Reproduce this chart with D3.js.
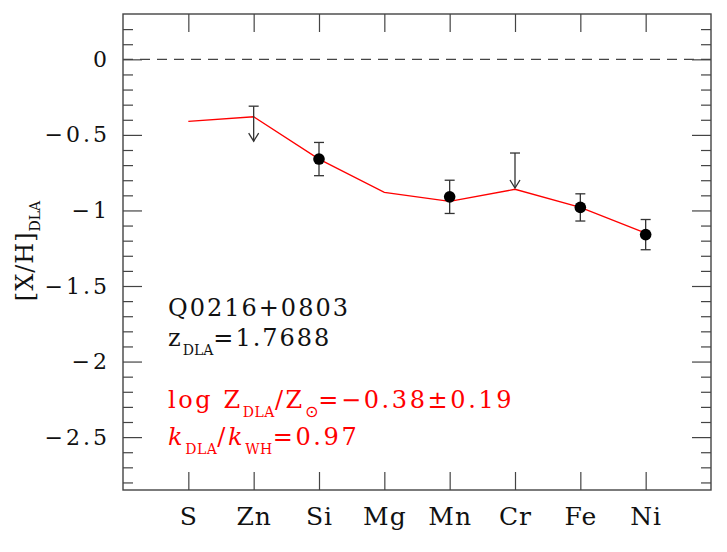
<html lang="en">
  <head>
    <title>Q0216+0803 abundances</title>
    <script src="https://d3js.org/d3.v7.min.js"></script>
    <style>
      body { margin: 0; background: #fff; }
      #chart text { font-family: 'DejaVu Serif', serif; }
      .axis path { display: none; }
      .axis line { stroke: #444; stroke-width: 1.2; }
    </style>
  </head>
  <body>
    <svg id="chart" width="727" height="552"></svg>
    <script>
      const elements = ['S', 'Zn', 'Si', 'Mg', 'Mn', 'Cr', 'Fe', 'Ni']
      const modelValues = [-0.41, -0.38, -0.66, -0.88, -0.94, -0.86, -0.98, -1.15]

      const detected = ['Si', 'Mn', 'Fe', 'Ni']
      const detectedValues = [-0.66, -0.91, -0.98, -1.16]
      const detectedErrors = [0.11, 0.11, 0.09, 0.10]

      const limitElements = ['Zn', 'Cr']
      const limitValues = [-0.31, -0.62]

      const yTicks = [0, -0.5, -1, -1.5, -2, -2.5]
      const yTickLabels = ['0', '\u22120.5', '\u22121', '\u22121.5', '\u22122', '\u22122.5']

      const svg = d3.select('#chart')
      const mLeft = 123, mTop = 14, mRight = 711, mBottom = 490

      const x = d3.scalePoint().domain(elements).range([mLeft, mRight]).padding(1)
      const y = d3.scaleLinear().domain([-2.85, 0.3]).range([mBottom, mTop])

      // frame
      svg.append('rect')
        .attr('x', mLeft).attr('y', mTop)
        .attr('width', mRight - mLeft).attr('height', mBottom - mTop)
        .attr('fill', 'none').attr('stroke', '#444').attr('stroke-width', 1.4)

      // minor y ticks every 0.1
      const minor = d3.range(-28, 3).map(d => d / 10).filter(d => Math.abs(d * 2 - Math.round(d * 2)) > 1e-6)
      svg.append('g').attr('class', 'axis').attr('transform', `translate(${mLeft},0)`)
        .call(d3.axisLeft(y).tickValues(minor).tickSize(-10).tickFormat(''))
      svg.append('g').attr('class', 'axis').attr('transform', `translate(${mRight},0)`)
        .call(d3.axisRight(y).tickValues(minor).tickSize(-10).tickFormat(''))

      // major y ticks + labels
      svg.append('g').attr('class', 'axis').attr('transform', `translate(${mLeft},0)`)
        .call(d3.axisLeft(y).tickValues(yTicks).tickSize(-19).tickPadding(13)
          .tickFormat((d, i) => yTickLabels[i]))
        .selectAll('text')
        .attr('font-size', 22).attr('fill', '#111').attr('letter-spacing', 3)
        .attr('font-family', "'DejaVu Serif', serif")
      svg.append('g').attr('class', 'axis').attr('transform', `translate(${mRight},0)`)
        .call(d3.axisRight(y).tickValues(yTicks).tickSize(-19).tickFormat(''))

      // x ticks
      const xb = svg.append('g').attr('class', 'axis').attr('transform', `translate(0,${mBottom})`)
        .call(d3.axisBottom(x).tickSize(-18))
      xb.selectAll('text')
        .attr('y', 35).attr('dy', 0)
        .attr('font-size', 25).attr('fill', '#111').attr('letter-spacing', 1)
        .attr('font-family', "'DejaVu Serif', serif")
      svg.append('g').attr('class', 'axis').attr('transform', `translate(0,${mTop})`)
        .call(d3.axisTop(x).tickSize(-18).tickFormat(''))

      // zero line
      svg.append('line')
        .attr('x1', mLeft).attr('x2', mRight)
        .attr('y1', y(0)).attr('y2', y(0))
        .attr('stroke', '#444').attr('stroke-width', 1.2)
        .attr('stroke-dasharray', '10,7')

      // model line
      svg.append('path')
        .datum(elements.map((e, i) => [e, modelValues[i]]))
        .attr('d', d3.line().x(d => x(d[0])).y(d => y(d[1])))
        .attr('fill', 'none').attr('stroke', '#ff0000').attr('stroke-width', 1.3)

      // error bars
      const eb = svg.append('g').attr('stroke', '#333').attr('stroke-width', 1.3)
      detected.forEach((e, i) => {
        const cx = x(e)
        const y1 = y(detectedValues[i] + detectedErrors[i])
        const y2 = y(detectedValues[i] - detectedErrors[i])
        eb.append('line').attr('x1', cx).attr('x2', cx).attr('y1', y1).attr('y2', y2)
        eb.append('line').attr('x1', cx - 5).attr('x2', cx + 5).attr('y1', y1).attr('y2', y1)
        eb.append('line').attr('x1', cx - 5).attr('x2', cx + 5).attr('y1', y2).attr('y2', y2)
      })

      svg.append('g').selectAll('circle')
        .data(detected).join('circle')
        .attr('cx', d => x(d))
        .attr('cy', (d, i) => y(detectedValues[i]))
        .attr('r', 5.8)
        .attr('fill', '#000')

      // upper limits
      const ul = svg.append('g').attr('stroke', '#333').attr('stroke-width', 1.3).attr('fill', 'none')
      limitElements.forEach((e, i) => {
        const cx = x(e)
        const y1 = y(limitValues[i])
        const tip = y1 + 35
        ul.append('line').attr('x1', cx).attr('x2', cx).attr('y1', y1).attr('y2', tip)
        ul.append('line').attr('x1', cx - 5).attr('x2', cx + 5).attr('y1', y1).attr('y2', y1)
        ul.append('path').attr('d', `M${cx - 5},${tip - 8}L${cx},${tip}L${cx + 5},${tip - 8}`)
      })

      // y label
      const yl = svg.append('text')
        .attr('transform', 'translate(33,251) rotate(-90)')
        .attr('text-anchor', 'middle').attr('fill', '#111')
        .attr('font-size', 24).attr('letter-spacing', 1)
      yl.append('tspan').text('[X/H]')
      yl.append('tspan').attr('dy', 7).attr('font-size', 14).attr('letter-spacing', 0).text('DLA')

      // annotations
      const note = svg.append('g').attr('font-size', 24).attr('letter-spacing', 2).attr('fill', '#111')
      note.append('text').attr('x', 168).attr('y', 316).text('Q0216+0803')
      const zt = note.append('text').attr('x', 168).attr('y', 346)
      zt.append('tspan').text('z')
      zt.append('tspan').attr('dy', 9).attr('font-size', 14).attr('letter-spacing', 0).text('DLA')
      zt.append('tspan').attr('dy', -9).text('=1.7688')

      const lz = note.append('text').attr('x', 168).attr('y', 408).attr('fill', '#ff0000')
        .attr('letter-spacing', 2.6)
      lz.append('tspan').text('log  Z')
      lz.append('tspan').attr('dy', 9).attr('font-size', 14).attr('letter-spacing', 0.5).text('DLA')
      lz.append('tspan').attr('dy', -9).text('/Z')
      lz.append('tspan').attr('dy', 9).attr('font-size', 16).attr('letter-spacing', 0)
        .attr('font-family', "'DejaVu Sans', sans-serif").text('\u2299')
      lz.append('tspan').attr('dy', -9).text('=\u22120.38\u00b10.19')

      const kt = note.append('text').attr('x', 168).attr('y', 445).attr('fill', '#ff0000')
        .attr('letter-spacing', 2.6)
      kt.append('tspan').attr('font-style', 'italic').text('k')
      kt.append('tspan').attr('dy', 9).attr('font-size', 14).attr('letter-spacing', 0.5).text('DLA')
      kt.append('tspan').attr('dy', -9).text('/')
      kt.append('tspan').attr('font-style', 'italic').text('k')
      kt.append('tspan').attr('dy', 9).attr('font-size', 14).attr('letter-spacing', 0.5).text('WH')
      kt.append('tspan').attr('dy', -9).text('=0.97')
    </script>
  </body>
</html>
